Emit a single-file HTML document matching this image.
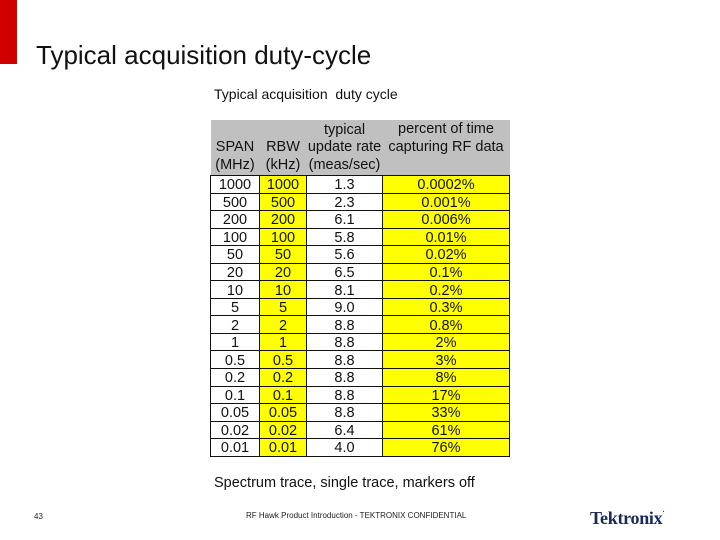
<!DOCTYPE html>
<html><head><meta charset="utf-8"><style>
body{margin:0;width:720px;height:540px;background:#fff;position:relative;overflow:hidden;font-family:"Liberation Sans",Arial,sans-serif;}
.abs{position:absolute;}
table{border-collapse:collapse;position:absolute;left:210px;top:120px;width:299px;table-layout:fixed;font-size:14.5px;color:#111;}
td{text-align:center;padding:0;line-height:15px;white-space:nowrap;}
tr.d td{height:14.55px;border:1px solid #111;background:#fff;padding:2px 0 0 0;box-sizing:content-box;vertical-align:middle;line-height:14px;}
tr.d td.y{background:#ffff00;}
thead td{background:#c0c0c0;height:53px;vertical-align:bottom;padding-bottom:1px;line-height:17.5px;}
</style></head><body>
<div class="abs" style="left:0;top:0;width:17px;height:64px;background:#d00000"></div>
<div class="abs" style="left:36px;top:40px;font-size:26px;color:#111;">Typical acquisition duty-cycle</div>
<div class="abs" style="left:214px;top:86px;font-size:14px;color:#111;">Typical acquisition &nbsp;duty cycle</div>
<table>
<colgroup><col style="width:49px"><col style="width:47px"><col style="width:76px"><col style="width:127px"></colgroup>
<thead><tr><td>SPAN<br>(MHz)</td><td>RBW<br>(kHz)</td><td>typical<br>update rate<br>(meas/sec)</td><td style="vertical-align:top;padding-top:1px">percent of time<br>capturing RF data</td></tr></thead>
<tbody id="tb"></tbody>
</table>
<div class="abs" style="left:214px;top:475px;font-size:14.5px;color:#111;">Spectrum trace, single trace, markers off</div>
<div class="abs" style="left:34px;top:512px;font-size:8px;color:#222;">43</div>
<div class="abs" style="left:246px;top:511px;font-size:8px;color:#222;">RF Hawk Product Introduction - TEKTRONIX CONFIDENTIAL</div>
<div class="abs" style="left:590px;top:508px;font-family:'Liberation Serif',serif;font-weight:bold;font-size:18px;color:#1a2a5a;letter-spacing:-0.3px;">Tektronix<span style="font-size:7px;vertical-align:top">·</span></div>
<script>
const spans=["1000","500","200","100","50","20","10","5","2","1","0.5","0.2","0.1","0.05","0.02","0.01"];
const rbws=["1000","500","200","100","50","20","10","5","2","1","0.5","0.2","0.1","0.05","0.02","0.01"];
const rates=["1.3","2.3","6.1","5.8","5.6","6.5","8.1","9.0","8.8","8.8","8.8","8.8","8.8","8.8","6.4","4.0"];
const pcts=["0.0002%","0.001%","0.006%","0.01%","0.02%","0.1%","0.2%","0.3%","0.8%","2%","3%","8%","17%","33%","61%","76%"];
const tb=document.getElementById('tb');
spans.forEach((s,i)=>{
  const tr=document.createElement('tr');tr.className='d';
  
  
  [[s,''],[rbws[i],'y'],[rates[i],''],[pcts[i],'y']].forEach(c=>{
    const td=document.createElement('td');td.textContent=c[0];if(c[1])td.className=c[1];
    
    
    tr.appendChild(td);
  });
  tb.appendChild(tr);
});
</script>
</body></html>
